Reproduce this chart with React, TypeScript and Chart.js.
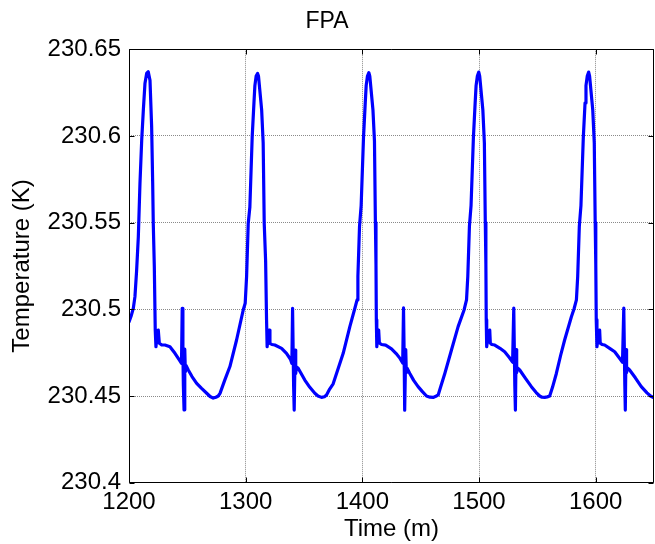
import React, { useEffect, useRef } from "react";
import { Chart, registerables } from "chart.js";

Chart.register(...registerables);

const chartTitle = "FPA";
const xLabel = "Time (m)";
const yLabel = "Temperature (K)";
const xTicks = [1200, 1300, 1400, 1500, 1600];
const yTicks = [230.4, 230.45, 230.5, 230.55, 230.6, 230.65];

// Time (minutes)
const times = [
  // cycle 1
  1200, 1202, 1203.7, 1205.1, 1206.5, 1208, 1209.4, 1210.9, 1212.3, 1213.7, 1215.2, 1216.5, 1218, 1219.4, 1220.3,
  1220.8, 1221.7, 1222.5, 1223.1, 1224.2, 1225.1, 1226, 1228, 1230.8, 1235.1, 1239.4, 1243.1, 1245.0,
  1245.6, 1246.2, 1246.6, 1247.2, 1247.8, 1248.3, 1249.0, 1250.8, 1254, 1258, 1262, 1266.6, 1269.5, 1272.2,
  1274.5, 1276.5, 1278, 1282, 1286.5, 1292.2, 1297.9, 1299.6,
  // cycle 2
  1300.8, 1302.2, 1303.6, 1305.6, 1307.1, 1307.9, 1309.0, 1310.2, 1311.0, 1311.9, 1313.7, 1315.0, 1315.9, 1317.1,
  1317.9, 1318.4, 1319.2, 1320.2, 1320.8, 1322.5, 1325, 1330.8, 1335, 1338.4, 1339.6, 1340.2, 1340.7, 1341.1,
  1341.6, 1342.4, 1342.9, 1343.6, 1345, 1350.7, 1355, 1359.3, 1362, 1365, 1367.5, 1369.3, 1372, 1375, 1383.6,
  1389.3, 1393.6, 1395.5,
  // cycle 3
  1396.2, 1397.6, 1399.0, 1401.0, 1402.5, 1403.3, 1404.4, 1405.6, 1406.4, 1407.3, 1409.1, 1410.4, 1411.2, 1411.7,
  1412.0, 1412.4, 1413.2, 1414.0, 1414.6, 1416.5, 1420, 1425, 1429, 1432.3, 1434.6, 1435.3, 1435.8, 1436.1,
  1436.5, 1437.2, 1437.7, 1438.4, 1440.7, 1444, 1447.8, 1451.5, 1455, 1458, 1460.7, 1463, 1465, 1467.5, 1470.7,
  1476.4, 1482.1, 1487.2, 1489.3,
  // cycle 4
  1490.4, 1491.8, 1493.2, 1495.2, 1496.7, 1497.5, 1498.6, 1499.8, 1500.6, 1501.5, 1503.3, 1504.6, 1505.4, 1505.9,
  1506.2, 1506.6, 1507.8, 1509.2, 1509.7, 1511, 1513.5, 1518, 1522, 1526, 1528.8, 1529.8, 1530.3, 1530.7,
  1531.2, 1531.8, 1532.3, 1533, 1534.9, 1540, 1544.9, 1549, 1552, 1554, 1556.3, 1558.5, 1560.6, 1563, 1566.3,
  1570, 1573.4, 1579.2, 1581.5, 1583.5,
  // cycle 5
  1584.6, 1586.0, 1587.4, 1589.4, 1590.9, 1591.7, 1592.8, 1594.0, 1594.8, 1595.7, 1597.5, 1598.8, 1599.6, 1600.1,
  1600.5, 1601.1, 1602.3, 1603.4, 1603.9, 1605.5, 1607.7, 1612, 1616.3, 1620, 1623.0, 1624.1, 1624.6, 1625.0,
  1625.4, 1626.0, 1626.5, 1627.2, 1629.1, 1634, 1639.1, 1644, 1647, 1650,
];

// Temperature (K)
const temps = [
  // cycle 1
  230.4927, 230.4965, 230.5006, 230.5073, 230.522, 230.5419, 230.5726, 230.5977, 230.615, 230.6304, 230.6362,
  230.637, 230.632, 230.6055, 230.5727, 230.5496, 230.5246, 230.488, 230.4784, 230.4865, 230.488, 230.4804,
  230.4795, 230.4794, 230.4784, 230.4746, 230.4708, 230.4688, 230.5005, 230.476, 230.456, 230.442, 230.477,
  230.464, 230.4675, 230.465, 230.4612, 230.4573, 230.4545, 230.4516, 230.4497, 230.4488, 230.4493, 230.45,
  230.4515, 230.459, 230.467, 230.4823, 230.4996, 230.5035,
  // cycle 2
  230.519, 230.5496, 230.559, 230.5995, 230.619, 230.629, 230.6345, 230.636, 230.6345, 230.628, 230.615,
  230.596, 230.5497, 230.528, 230.494, 230.4784, 230.484, 230.488, 230.4804, 230.4797, 230.4794, 230.4775,
  230.4746, 230.4712, 230.4688, 230.5006, 230.476, 230.456, 230.4419, 230.4765, 230.463, 230.4668, 230.466,
  230.4592, 230.455, 230.4516, 230.45, 230.4492, 230.4496, 230.4506, 230.454, 230.457, 230.4746, 230.49,
  230.5006, 230.5054,
  // cycle 3
  230.519, 230.548, 230.56, 230.599, 230.619, 230.629, 230.6345, 230.6365, 230.6345, 230.628, 230.615,
  230.597, 230.55, 230.526, 230.494, 230.4784, 230.4845, 230.488, 230.4806, 230.4797, 230.4793, 230.4772,
  230.4745, 230.4717, 230.469, 230.5008, 230.476, 230.456, 230.4418, 230.4768, 230.4635, 230.466, 230.463,
  230.459, 230.4554, 230.4525, 230.45, 230.4493, 230.4492, 230.4498, 230.4506, 230.456, 230.463, 230.4765,
  230.49, 230.4996, 230.5054,
  // cycle 4
  230.519, 230.548, 230.56, 230.599, 230.619, 230.629, 230.6345, 230.6368, 230.6345, 230.628, 230.615,
  230.596, 230.55, 230.526, 230.494, 230.4784, 230.485, 230.488, 230.4805, 230.4797, 230.4794, 230.4775,
  230.4755, 230.4722, 230.4695, 230.5007, 230.476, 230.456, 230.4419, 230.4768, 230.4635, 230.4662, 230.465,
  230.46, 230.4554, 230.452, 230.45, 230.4493, 230.4492, 230.4495, 230.45, 230.455, 230.463, 230.4735,
  230.4823, 230.4957, 230.5003, 230.5054,
  // cycle 5
  230.519, 230.548, 230.56, 230.599, 230.619, 230.629, 230.6345, 230.6368, 230.6345, 230.628, 230.615,
  230.596, 230.55, 230.526, 230.494, 230.4784, 230.485, 230.488, 230.4805, 230.4797, 230.4794, 230.4775,
  230.4755, 230.4722, 230.4695, 230.5007, 230.476, 230.456, 230.4419, 230.4768, 230.4635, 230.4662, 230.465,
  230.4605, 230.4554, 230.4518, 230.45, 230.449,
];

const FONT = "'Liberation Sans', Arial, Helvetica, sans-serif";

const frameBox = {
  id: "frameBox",
  afterDatasetsDraw(chart: any) {
    const { ctx, chartArea } = chart;
    const { left, right, top, bottom } = chartArea;
    ctx.save();
    ctx.strokeStyle = "#000";
    ctx.lineWidth = 1;
    const L = Math.round(left) + 0.5;
    const R = Math.round(right) - 0.5;
    const T = Math.round(top) + 0.5;
    const B = Math.round(bottom) - 0.5;
    ctx.beginPath();
    ctx.rect(L, T, R - L, B - T);
    ctx.stroke();
    const tl = 5;
    ctx.beginPath();
    const xs = chart.scales.x;
    xs.ticks.forEach((t: any) => {
      const px = Math.round(xs.getPixelForValue(t.value)) + 0.5;
      ctx.moveTo(px, B);
      ctx.lineTo(px, B - tl);
      ctx.moveTo(px, T);
      ctx.lineTo(px, T + tl);
    });
    const ys = chart.scales.y;
    ys.ticks.forEach((t: any) => {
      const py = Math.round(ys.getPixelForValue(t.value)) + 0.5;
      ctx.moveTo(L, py);
      ctx.lineTo(L + tl, py);
      ctx.moveTo(R, py);
      ctx.lineTo(R - tl, py);
    });
    ctx.stroke();
    ctx.restore();
  },
};

export default function App() {
  const ref = useRef<HTMLCanvasElement | null>(null);

  useEffect(() => {
    if (!ref.current) return;
    const points = times.map((t, i) => ({ x: t, y: temps[i] }));
    const chart = new Chart(ref.current, {
      type: "line",
      data: {
        datasets: [
          {
            data: points,
            borderColor: "#0000ff",
            borderWidth: 3.2,
            borderJoinStyle: "round",
            borderCapStyle: "round",
            pointRadius: 0,
            fill: false,
            tension: 0,
          },
        ],
      },
      options: {
        responsive: false,
        animation: false,
        layout: { padding: { left: 0, right: 1, top: 0, bottom: 0 } },
        plugins: {
          legend: { display: false },
          tooltip: { enabled: false },
          title: {
            display: true,
            text: chartTitle,
            color: "#000",
            font: { family: FONT, size: 23, weight: "normal" },
            padding: { top: 8, bottom: 13.6 },
          },
        },
        scales: {
          x: {
            type: "linear",
            min: 1200,
            max: 1650,
            afterBuildTicks: (s: any) => {
              s.ticks = xTicks.map((v) => ({ value: v }));
            },
            afterFit: (s: any) => {
              s.height = 61.3;
            },
            ticks: {
              color: "#000",
              font: { family: FONT, size: 24 },
              padding: 5,
              maxRotation: 0,
              callback: (v: any) => String(v),
            },
            grid: { color: "#8a8a8a", drawTicks: false, lineWidth: 1 },
            border: { display: false, dash: [1, 1] },
            title: {
              display: true,
              text: xLabel,
              color: "#000",
              font: { family: FONT, size: 24 },
              padding: { top: 0, bottom: 0 },
            },
          },
          y: {
            type: "linear",
            min: 230.4,
            max: 230.65,
            afterBuildTicks: (s: any) => {
              s.ticks = yTicks.map((v) => ({ value: v }));
            },
            afterFit: (s: any) => {
              s.width = 129;
            },
            ticks: {
              color: "#000",
              font: { family: FONT, size: 24 },
              padding: 8,
              callback: (v: any) => String(Number(Number(v).toFixed(2))),
            },
            grid: { color: "#8a8a8a", drawTicks: false, lineWidth: 1 },
            border: { display: false, dash: [1, 1] },
            title: {
              display: true,
              text: yLabel,
              color: "#000",
              font: { family: FONT, size: 24 },
              padding: { top: 8, bottom: 0 },
            },
          },
        },
      },
      plugins: [frameBox],
    });
    return () => chart.destroy();
  }, []);

  return (
    <div style={{ position: "fixed", left: 0, top: 0, width: 655, height: 544, background: "#fff" }}>
      <canvas ref={ref} width={655} height={544} style={{ display: "block" }} />
    </div>
  );
}
